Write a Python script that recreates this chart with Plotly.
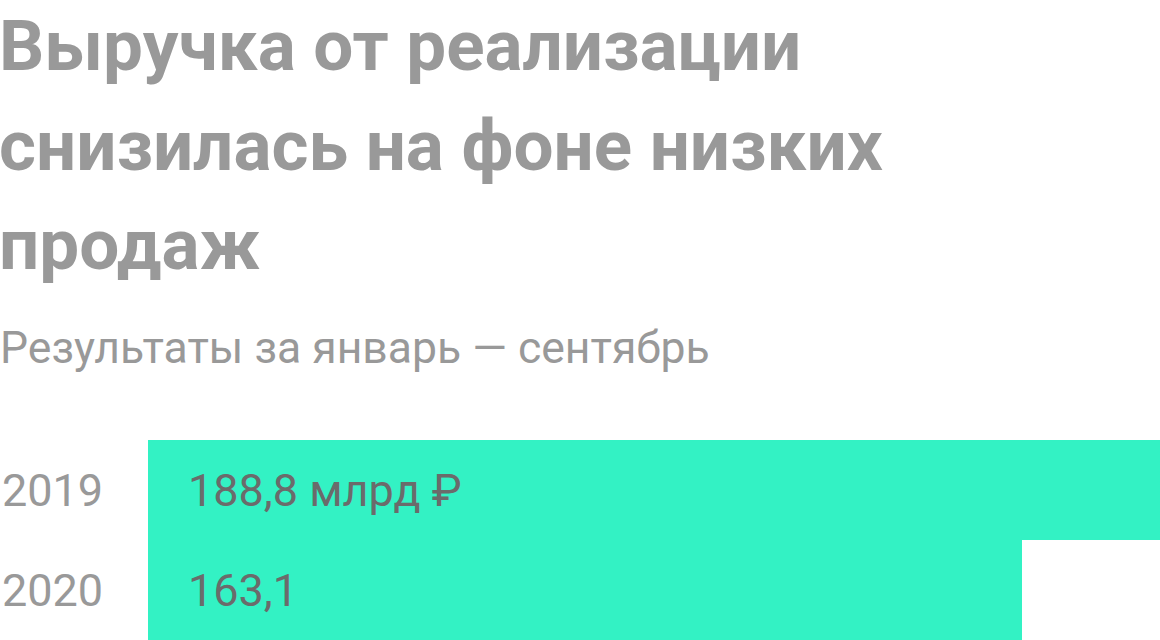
import plotly.graph_objects as go

# data
years = ["2019", "2020"]
revenue = [188.8, 163.1]
value_labels = ["188,8 млрд ₽", "163,1"]

title_lines = ["Выручка от реализации", "снизилась на фоне низких", "продаж"]
subtitle = "Результаты за январь — сентябрь"

W, H = 1160, 640
PLOT_LEFT, PLOT_TOP = 148, 440
plot_h = H - PLOT_TOP
plot_w = W - PLOT_LEFT

FONT = "Roboto"
GRAY = "#999999"
DARK = "#6b6b6b"
BAR = "#33f2c4"


def py(pixel_y):
    # pixel row on the page -> paper coordinate (plot area spans PLOT_TOP..H)
    return (H - pixel_y) / plot_h


fig = go.Figure()
fig.add_trace(go.Bar(
    x=revenue,
    y=years,
    orientation="h",
    marker=dict(color=BAR, line=dict(width=0)),
    hoverinfo="skip",
))

annotations = []
# on a category axis a numeric-looking name is read as an index, so place by index
for i, (yr, lab) in enumerate(zip(years, value_labels)):
    annotations.append(dict(
        x=0, y=i, xref="x", yref="y",
        text=lab, showarrow=False,
        xanchor="left", yanchor="middle", xshift=38,
        font=dict(family=FONT, size=45, color=DARK),
    ))
    annotations.append(dict(
        x=-PLOT_LEFT / plot_w, y=i, xref="paper", yref="y",
        text=yr, showarrow=False,
        xanchor="left", yanchor="middle", xshift=0,
        font=dict(family=FONT, size=45, color=GRAY),
    ))

title_centers = [46, 145, 244]
for line, cy in zip(title_lines, title_centers):
    annotations.append(dict(
        x=-PLOT_LEFT / plot_w, y=py(cy), xref="paper", yref="paper",
        text="<b>" + line + "</b>", showarrow=False,
        xanchor="left", yanchor="middle", xshift=-3,
        font=dict(family=FONT, size=71, color=GRAY),
    ))

annotations.append(dict(
    x=-PLOT_LEFT / plot_w, y=py(348), xref="paper", yref="paper",
    text=subtitle, showarrow=False,
    xanchor="left", yanchor="middle", xshift=-2,
    font=dict(family=FONT, size=44.5, color=GRAY),
))

fig.update_layout(
    width=W, height=H,
    margin=dict(l=PLOT_LEFT, r=0, t=PLOT_TOP, b=0, pad=0),
    paper_bgcolor="white",
    plot_bgcolor="white",
    showlegend=False,
    bargap=0,
    annotations=annotations,
    xaxis=dict(range=[0, max(revenue)], visible=False, fixedrange=True),
    yaxis=dict(type="category", categoryorder="array", categoryarray=years,
               range=[len(years) - 0.5, -0.5], visible=False, fixedrange=True),
)

# drop the browser's default 8px body margin so the figure sits at the page corner
fig.write_html("out.html", config={"displayModeBar": False},
               post_script="document.body.style.margin='0';document.body.style.overflow='hidden';")
